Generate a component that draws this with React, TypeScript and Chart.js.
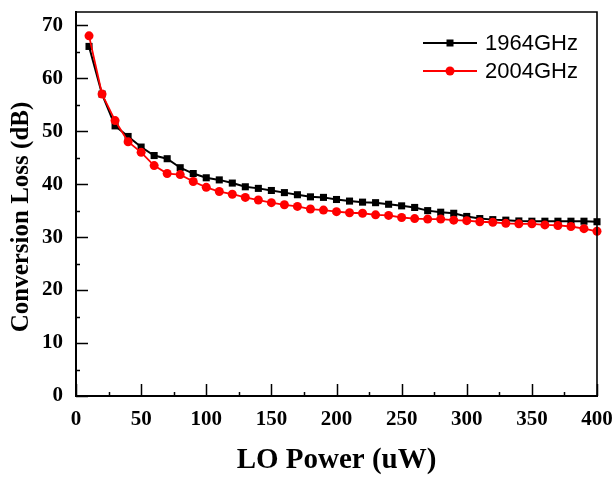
import React, { useEffect, useRef } from 'react';
import { Chart, registerables } from 'chart.js';

Chart.register(...registerables);

// ---- data ----
const loPower = [
  10, 20, 30, 40, 50, 60, 70, 80, 90, 100,
  110, 120, 130, 140, 150, 160, 170, 180, 190, 200,
  210, 220, 230, 240, 250, 260, 270, 280, 290, 300,
  310, 320, 330, 340, 350, 360, 370, 380, 390, 400,
];
const loss1964GHz = [
  66, 57, 51, 49, 47, 45.4, 44.8, 43.1, 42, 41.2,
  40.8, 40.2, 39.5, 39.2, 38.8, 38.4, 38.0, 37.6, 37.5, 37.1,
  36.8, 36.6, 36.5, 36.2, 35.9, 35.6, 35.0, 34.7, 34.5, 33.9,
  33.5, 33.3, 33.2, 33.05, 33.0, 33.0, 33.0, 33.0, 33.0, 32.9,
];
const loss2004GHz = [
  68, 57, 52, 48, 46, 43.5, 42, 41.8, 40.5, 39.4,
  38.6, 38.1, 37.5, 37.0, 36.5, 36.1, 35.8, 35.3, 35.1, 34.8,
  34.6, 34.5, 34.2, 34.1, 33.7, 33.5, 33.4, 33.4, 33.2, 33.1,
  32.9, 32.8, 32.6, 32.5, 32.5, 32.3, 32.2, 32.0, 31.6, 31.1,
];
const seriesNames = ['1964GHz', '2004GHz'];
const xMajorTicks = [0, 50, 100, 150, 200, 250, 300, 350, 400];
const xMinorTicks = [25, 75, 125, 175, 225, 275, 325, 375];
const yMajorTicks = [0, 10, 20, 30, 40, 50, 60, 70];
const yMinorTicks = [5, 15, 25, 35, 45, 55, 65];
const xTitle = 'LO Power (uW)';
const yTitle = 'Conversion Loss (dB)';

const W = 615;
const H = 479;
const SERIF = '"Liberation Serif", "Times New Roman", serif';
const SANS = '"Liberation Sans", Arial, sans-serif';

const frameTicksLegend = {
  id: 'frameTicksLegend',
  afterDraw(chart: any) {
    const { ctx, chartArea, scales } = chart;
    const { left, right, top, bottom } = chartArea;
    const x = scales.x;
    const y = scales.y;
    ctx.save();
    ctx.strokeStyle = '#000';
    // top & right frame
    ctx.lineWidth = 1.6;
    ctx.beginPath();
    ctx.moveTo(left - 1, top);
    ctx.lineTo(right, top);
    ctx.lineTo(right, bottom + 1);
    ctx.stroke();
    // inward ticks
    ctx.lineWidth = 1.5;
    ctx.beginPath();
    yMajorTicks.forEach((v) => {
      const p = Math.round(y.getPixelForValue(v)) + 0.5;
      ctx.moveTo(left, p);
      ctx.lineTo(left + 12, p);
    });
    yMinorTicks.forEach((v) => {
      const p = Math.round(y.getPixelForValue(v)) + 0.5;
      ctx.moveTo(left, p);
      ctx.lineTo(left + 4, p);
    });
    xMajorTicks.forEach((v) => {
      const p = Math.round(x.getPixelForValue(v)) + 0.5;
      ctx.moveTo(p, bottom);
      ctx.lineTo(p, bottom - 12);
    });
    xMinorTicks.forEach((v) => {
      const p = Math.round(x.getPixelForValue(v)) + 0.5;
      ctx.moveTo(p, bottom);
      ctx.lineTo(p, bottom - 4);
    });
    ctx.stroke();

    // y-axis title (slightly below the axis centre, as in the reference)
    ctx.save();
    ctx.translate(22, (top + bottom) / 2 + 13);
    ctx.rotate(-Math.PI / 2);
    ctx.fillStyle = '#000';
    ctx.font = `bold 25px ${SERIF}`;
    ctx.textAlign = 'center';
    ctx.textBaseline = 'middle';
    ctx.fillText(yTitle, 0, 0);
    ctx.restore();

    // legend (line + marker + text)
    chart.data.datasets.forEach((ds: any, i: number) => {
      const ly = top + 31 + i * 28;
      const x0 = right - 174;
      const x1 = right - 120;
      const cx = (x0 + x1) / 2;
      ctx.strokeStyle = ds.borderColor;
      ctx.lineWidth = ds.borderWidth;
      ctx.beginPath();
      ctx.moveTo(x0, ly);
      ctx.lineTo(x1, ly);
      ctx.stroke();
      ctx.fillStyle = ds.backgroundColor;
      if (ds.pointStyle === 'rect') {
        ctx.fillRect(cx - 3.5, ly - 3.5, 7, 7);
      } else {
        ctx.beginPath();
        ctx.arc(cx, ly, 4.5, 0, Math.PI * 2);
        ctx.fill();
      }
      ctx.fillStyle = '#000';
      ctx.font = `22px ${SANS}`;
      ctx.textAlign = 'left';
      ctx.textBaseline = 'middle';
      ctx.fillText(seriesNames[i], right - 112, ly + 1);
    });
    ctx.restore();
  },
};

export default function App() {
  const ref = useRef<HTMLCanvasElement | null>(null);

  useEffect(() => {
    if (!ref.current) return;
    const tickFont = { family: SERIF, size: 21, weight: 'bold' as const, lineHeight: 1.1 };
    const chart = new Chart(ref.current, {
      type: 'line',
      data: {
        datasets: [
          {
            label: seriesNames[0],
            data: loPower.map((p, i) => ({ x: p, y: loss1964GHz[i] })),
            borderColor: '#000000',
            backgroundColor: '#000000',
            pointBackgroundColor: '#000000',
            pointBorderColor: '#000000',
            borderWidth: 2,
            pointStyle: 'rect',
            pointRadius: 5,
            pointBorderWidth: 0,
            tension: 0,
            clip: false as any,
            order: 1,
          },
          {
            label: seriesNames[1],
            data: loPower.map((p, i) => ({ x: p, y: loss2004GHz[i] })),
            borderColor: '#ff0000',
            backgroundColor: '#ff0000',
            pointBackgroundColor: '#ff0000',
            pointBorderColor: '#ff0000',
            borderWidth: 1.8,
            pointStyle: 'circle',
            pointRadius: 4.5,
            pointBorderWidth: 0,
            tension: 0,
            clip: false as any,
            order: 0,
          },
        ],
      },
      options: {
        animation: false,
        responsive: false,
        maintainAspectRatio: false,
        devicePixelRatio: 1,
        layout: { padding: { top: 12, right: 18, left: 0, bottom: 0 } },
        plugins: {
          legend: { display: false },
          tooltip: { enabled: false },
        },
        scales: {
          x: {
            type: 'linear',
            min: 0,
            max: 400,
            grid: { display: false, drawTicks: false },
            border: { display: true, color: '#000', width: 2 },
            ticks: {
              stepSize: 50,
              color: '#000',
              font: tickFont,
              padding: 12,
              maxRotation: 0,
              autoSkip: false,
            },
            title: {
              display: true,
              text: xTitle,
              color: '#000',
              font: { family: SERIF, size: 29, weight: 'bold' },
              padding: { top: 0, bottom: 1 },
            },
            afterFit(s: any) {
              s.height = 83;
              s.paddingLeft = 0;
              s.paddingRight = 0;
              s.paddingTop = 0;
              s.paddingBottom = 0;
            },
          },
          y: {
            type: 'linear',
            min: 0,
            max: 72.5,
            grid: { display: false, drawTicks: false },
            border: { display: true, color: '#000', width: 2 },
            ticks: {
              stepSize: 10,
              color: '#000',
              font: tickFont,
              padding: 13,
              autoSkip: false,
            },
            afterBuildTicks(s: any) {
              s.ticks = yMajorTicks.map((v) => ({ value: v }));
            },
            title: { display: false },
            afterFit(s: any) {
              s.width = 76;
              s.paddingLeft = 0;
              s.paddingRight = 0;
              s.paddingTop = 0;
              s.paddingBottom = 0;
            },
          },
        },
      },
      plugins: [frameTicksLegend],
    });
    return () => chart.destroy();
  }, []);

  return (
    <div style={{ position: 'fixed', left: 0, top: 0, width: W, height: H, background: '#fff' }}>
      <canvas ref={ref} width={W} height={H} style={{ display: 'block', width: W, height: H }} />
    </div>
  );
}
